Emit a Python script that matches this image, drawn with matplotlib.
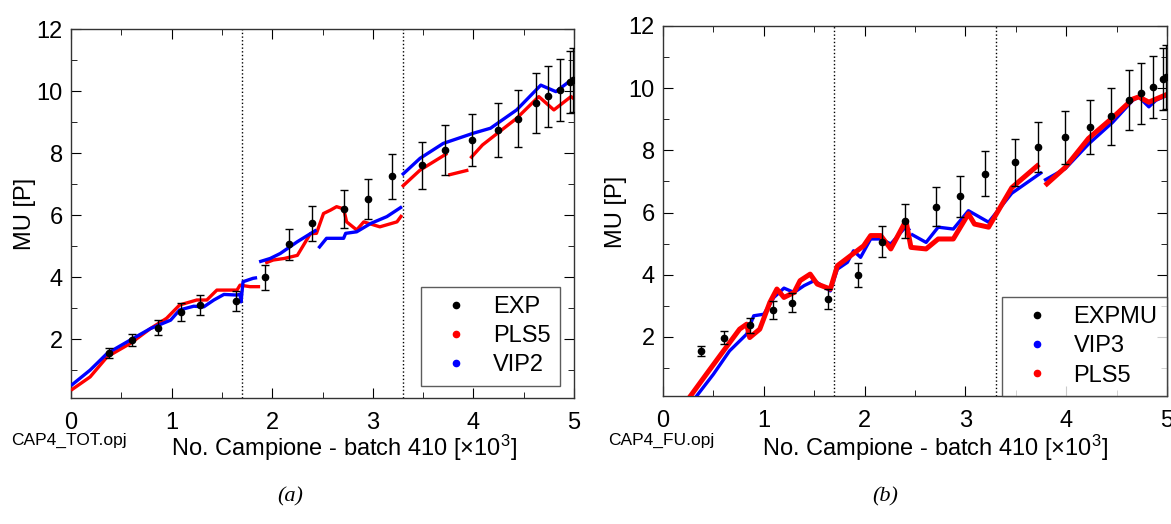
import numpy as np
import matplotlib.pyplot as plt
from matplotlib.lines import Line2D
from matplotlib.ticker import MultipleLocator

plt.rcParams['font.family'] = ['Liberation Sans', 'DejaVu Sans']
plt.rcParams['mathtext.default'] = 'regular'

# experimental points (same in both panels)
exp_x = [0.38, 0.61, 0.86, 1.09, 1.28, 1.64, 1.93, 2.17, 2.40, 2.71, 2.95,
         3.19, 3.49, 3.72, 3.99, 4.24, 4.44, 4.62, 4.74, 4.86, 4.96, 4.99]
exp_y = [1.55, 1.98, 2.37, 2.86, 3.10, 3.22, 3.99, 5.06, 5.73, 6.19, 6.52,
         7.25, 7.61, 8.10, 8.42, 8.74, 9.10, 9.62, 9.83, 10.03, 10.30, 10.36]
exp_err = [0.15, 0.20, 0.24, 0.29, 0.31, 0.32, 0.40, 0.50, 0.56, 0.62, 0.65,
           0.72, 0.76, 0.81, 0.85, 0.87, 0.92, 0.96, 0.98, 1.00, 1.00, 1.04]

# panel (a): VIP2 model
vip2_x = [0, 0.19, 0.36, 0.59, 0.79, 0.99, 1.08, 1.22, 1.32, 1.42, 1.52, 1.65,
          1.68, 1.69, 1.71, 1.81, 1.85, np.nan, 1.87, 1.98, 2.08, 2.25, 2.44,
          np.nan, 2.46, 2.54, 2.71, 2.73, 2.84, 2.98, 3.14, 3.29, np.nan,
          3.29, 3.47, 3.70, 4.00, 4.17, 4.43, 4.67, 4.82, 4.97, 5.0]
vip2_y = [0.50, 1.00, 1.54, 1.97, 2.34, 2.61, 2.94, 3.06, 3.04, 3.26, 3.44, 3.42,
          3.45, 3.20, 3.85, 3.96, 3.98, np.nan, 4.49, 4.60, 4.76, 5.14, 5.52,
          np.nan, 4.93, 5.25, 5.25, 5.41, 5.46, 5.73, 5.95, 6.27, np.nan,
          7.29, 7.83, 8.31, 8.64, 8.80, 9.39, 10.19, 9.98, 10.35, 10.40]

# panel (a): PLS5 model
pls5a_x = [0, 0.19, 0.36, 0.59, 0.79, 0.95, 1.08, 1.25, 1.35, 1.45, 1.65, 1.68,
           1.78, 1.88, np.nan, 1.93, 2.01, 2.12, 2.25, 2.38, 2.44, 2.51, 2.58,
           2.64, 2.71, 2.74, 2.84, 2.91, 3.07, 3.24, 3.29, np.nan, 3.29, 3.47,
           3.74, np.nan, 3.75, 3.95, np.nan, 3.97, 4.09, 4.43, 4.65, 4.80, 4.97, 5.0]
pls5a_y = [0.35, 0.78, 1.43, 1.86, 2.34, 2.67, 3.10, 3.26, 3.26, 3.58, 3.58, 3.74,
           3.69, 3.69, np.nan, 4.45, 4.55, 4.60, 4.70, 5.40, 5.41, 6.05, 6.16,
           6.27, 6.20, 5.78, 5.52, 5.78, 5.62, 5.78, 6.00, np.nan, 6.91, 7.45,
           7.99, np.nan, 7.29, 7.45, np.nan, 7.83, 8.26, 9.12, 9.82, 9.39, 9.82, 9.75]

# panel (b): VIP3 model
vip3_x = [0.31, 0.50, 0.66, 0.83, 0.90, 1.00, 1.10, 1.20, 1.30, 1.40, 1.50, 1.66,
          1.73, 1.83, 1.89, 1.96, 2.06, 2.16, 2.26, 2.41, 2.45, np.nan, 2.46,
          2.61, 2.73, 2.88, 3.03, 3.23, 3.46, 3.76, np.nan, 3.78, 3.99, 4.22,
          4.46, 4.66, 4.72, 4.82, 4.89, 5.0]
vip3_y = [0.0, 0.80, 1.55, 2.09, 2.68, 2.73, 3.27, 3.57, 3.43, 3.65, 3.81, 3.48,
          4.18, 4.40, 4.77, 4.56, 5.15, 5.15, 4.99, 5.55, 5.42, np.nan, 5.31,
          5.04, 5.53, 5.47, 6.06, 5.69, 6.62, 7.30, np.nan, 7.03, 7.41, 8.20,
          8.90, 9.61, 9.72, 9.40, 9.61, 9.77]

# panel (b): PLS5 model
pls5b_x = [0.25, 0.43, 0.60, 0.76, 0.83, 0.86, 0.96, 1.06, 1.13, 1.20, 1.30, 1.36,
           1.46, 1.53, 1.66, 1.73, 1.86, 1.99, 2.06, 2.16, 2.26, 2.41, 2.46,
           2.61, 2.73, 2.88, 3.03, 3.09, 3.23, 3.46, 3.73, np.nan, 3.79, 3.99,
           4.22, 4.46, 4.66, 4.72, 4.82, 4.89, 5.0]
pls5b_y = [0.0, 0.80, 1.55, 2.25, 2.41, 1.98, 2.25, 3.11, 3.54, 3.27, 3.43, 3.81,
           4.02, 3.70, 3.54, 4.29, 4.61, 4.93, 5.26, 5.26, 4.83, 5.74, 4.88,
           4.83, 5.15, 5.15, 5.96, 5.63, 5.53, 6.80, 7.55, np.nan, 6.87, 7.45,
           8.38, 9.05, 9.65, 9.72, 9.55, 9.65, 9.80]

batch_edges = [1.70, 3.30]

W, H = 1171, 524
fig = plt.figure(figsize=(W / 100, H / 100), dpi=100)
ax1 = fig.add_axes([71 / W, 1 - 398 / H, 503 / W, 369 / H])
ax2 = fig.add_axes([663 / W, 1 - 396 / H, 504 / W, 370 / H])


def style_axes(ax):
    ax.set_xlim(0, 5)
    ax.set_ylim(0.1, 12)
    ax.xaxis.set_major_locator(MultipleLocator(1))
    ax.xaxis.set_minor_locator(MultipleLocator(0.5))
    ax.yaxis.set_major_locator(MultipleLocator(2))
    ax.yaxis.set_minor_locator(MultipleLocator(1))
    ax.tick_params(which='both', direction='in', top=True, right=True,
                   labelsize=17)
    ax.tick_params(axis='x', pad=10)
    ax.tick_params(axis='y', pad=6)
    ax.tick_params(which='major', length=7)
    ax.tick_params(which='minor', length=4)
    ax.set_yticks([2, 4, 6, 8, 10, 12])
    for s in ax.spines.values():
        s.set_linewidth(1.0)
        s.set_color('#333333')
    for xe in batch_edges:
        ax.axvline(xe, color='black', ls=':', lw=1.0, zorder=1)


def draw_exp(ax):
    ax.errorbar(exp_x, exp_y, yerr=exp_err, fmt='o', color='black', ms=4.5,
                ecolor='black', elinewidth=1.0, capsize=3, capthick=1.0, zorder=5)


style_axes(ax1)
ax1.plot(pls5a_x, pls5a_y, color='#ff0000', lw=2.4, solid_capstyle='butt', zorder=3)
ax1.plot(vip2_x, vip2_y, color='#0000ff', lw=2.4, solid_capstyle='butt', zorder=4)
draw_exp(ax1)

style_axes(ax2)
ax2.plot(vip3_x, vip3_y, color='#0000ff', lw=2.4, solid_capstyle='butt', zorder=3)
ax2.plot(pls5b_x, pls5b_y, color='#ff0000', lw=3.6, solid_capstyle='butt', zorder=4)
draw_exp(ax2)


def dot(c):
    return Line2D([], [], ls='none', marker='o', ms=4.5, color=c)


leg_kw = dict(fontsize=17, frameon=True, fancybox=False, handlelength=2.2,
              handletextpad=0.45, borderpad=0.4, labelspacing=0.3,
              borderaxespad=0)
l1 = ax1.legend([dot('black'), dot('#ff0000'), dot('#0000ff')],
                ['EXP', 'PLS5', 'VIP2'], loc='lower right',
                bbox_to_anchor=(0.972, 0.033), **leg_kw)
l2 = ax2.legend([dot('black'), dot('#0000ff'), dot('#ff0000')],
                ['EXPMU', 'VIP3', 'PLS5'], loc='lower right',
                bbox_to_anchor=(1.0, 0.0), **leg_kw)
for lg in (l1, l2):
    lg.get_frame().set_edgecolor('#333333')
    lg.get_frame().set_linewidth(1.0)

ylab = 'MU [P]'
fig.text(25 / W, 1 - 214 / H, ylab, fontsize=17, rotation=90, ha='center', va='center')
fig.text(616 / W, 1 - 212 / H, ylab, fontsize=17, rotation=90, ha='center', va='center')

xlab = 'No. Campione - batch 410 [×10$^{3}$]'
fig.text(344 / W, 1 - 448 / H, xlab, fontsize=17, ha='center', va='center')
fig.text(935 / W, 1 - 448 / H, xlab, fontsize=17, ha='center', va='center')
fig.text(11 / W, 1 - 440 / H, 'CAP4_TOT.opj', fontsize=12.5, va='center')
fig.text(608 / W, 1 - 440 / H, 'CAP4_FU.opj', fontsize=12.5, va='center')

fig.text(290 / W, 1 - 497 / H, '(a)', fontsize=16, style='italic',
         family='Liberation Serif', ha='center', va='center')
fig.text(885 / W, 1 - 497 / H, '(b)', fontsize=16, style='italic',
         family='Liberation Serif', ha='center', va='center')

fig.savefig('out.png', dpi=100)
